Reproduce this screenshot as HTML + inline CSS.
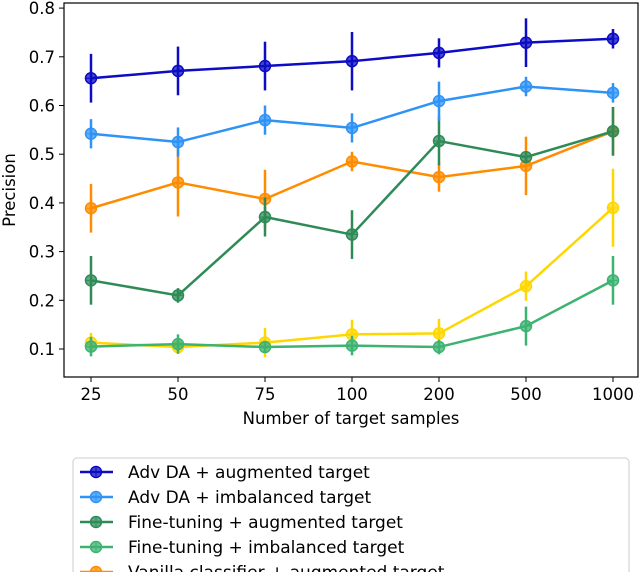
<!DOCTYPE html>
<html><head><meta charset="utf-8"><style>
html,body{margin:0;background:#fff;width:640px;height:572px;overflow:hidden;}
svg{display:block;overflow:hidden;}
svg text{font-family:"DejaVu Sans","Liberation Sans",sans-serif;fill:#000;}
</style></head><body>
<svg id="chart" width="640" height="572" xmlns="http://www.w3.org/2000/svg">
<g id="plot"></g>
</svg>
<script>
const categories=["25","50","75","100","200","500","1000"];
const yTicks=[0.1,0.2,0.3,0.4,0.5,0.6,0.7,0.8];
const seriesNames=["Adv DA + augmented target","Adv DA + imbalanced target","Fine-tuning + augmented target","Fine-tuning + imbalanced target","Vanilla classifier + augmented target","Vanilla classifier + imbalanced target"];
const seriesColors=["#0c0cc4","#2f93f5","#2e8b57","#3cb371","#ff8c00","#ffd700"];
const advAug=[0.656,0.671,0.681,0.691,0.708,0.729,0.737];
const advAugErr=[0.05,0.05,0.05,0.06,0.03,0.05,0.02];
const advImb=[0.542,0.525,0.570,0.554,0.609,0.639,0.626];
const advImbErr=[0.03,0.03,0.03,0.03,0.04,0.02,0.02];
const ftAug=[0.241,0.210,0.371,0.335,0.527,0.494,0.547];
const ftAugErr=[0.05,0.015,0.04,0.05,0.05,0.01,0.05];
const ftImb=[0.105,0.110,0.104,0.107,0.104,0.147,0.241];
const ftImbErr=[0.02,0.02,0.01,0.02,0.015,0.04,0.05];
const vanAug=[0.389,0.442,0.408,0.485,0.453,0.476,0.547];
const vanAugErr=[0.05,0.07,0.06,0.02,0.03,0.06,0.05];
const vanImb=[0.113,0.104,0.113,0.130,0.132,0.229,0.390];
const vanImbErr=[0.02,0.01,0.03,0.03,0.03,0.03,0.08];

const NS="http://www.w3.org/2000/svg";
const L=64,R=638,T=3,B=377;
function xPos(i){return 91+i*87;}
function yPos(v){return 349-(v-0.1)*487;}
const g=document.getElementById('plot');
function mk(tag,attrs,parent){const e=document.createElementNS(NS,tag);for(const k in attrs)e.setAttribute(k,attrs[k]);(parent||g).appendChild(e);return e;}

const frame=mk('rect',{x:L,y:T,width:R-L,height:B-T,fill:'none',stroke:'#000','stroke-width':1.2});


yTicks.forEach(v=>{
  const y=yPos(v);
  const t=mk('line',{x1:L-5,x2:L,y1:y,y2:y,stroke:'#000'});
  
  
  const tx=mk('text',{x:L-9,y:y+6,'text-anchor':'end','font-size':16.5});
  tx.textContent=v.toFixed(1);
  
  
});
categories.forEach((c,i)=>{
  const x=xPos(i);
  const t=mk('line',{x1:x,x2:x,y1:B,y2:B+5,stroke:'#000'});
  
  
  const tx=mk('text',{x:x,y:400,'text-anchor':'middle','font-size':16.5});
  tx.textContent=c;
  
  
});
const xl=mk('text',{x:351,y:424,'text-anchor':'middle','font-size':16.5});
xl.textContent="Number of target samples";


const yl=mk('text',{x:0,y:0,'text-anchor':'middle','font-size':16.5,transform:'translate(15,190) rotate(-90)'});
yl.textContent="Precision";



const allVals=[advAug,advImb,ftAug,ftImb,vanAug,vanImb];
const allErr=[advAugErr,advImbErr,ftAugErr,ftImbErr,vanAugErr,vanImbErr];
const order=[5,4,3,2,1,0];
function marker(x,y,col,parent){
  mk('circle',{cx:x,cy:y,r:5.5,fill:col,stroke:col,'stroke-width':1.5,'fill-opacity':0.75},parent);
  mk('path',{d:`M${x-5} ${y}H${x+5}M${x} ${y-5}V${y+5}`,stroke:col,'stroke-width':1},parent);
}
order.forEach(s=>{
  const col=seriesColors[s];
  const sg=mk('g',{});
  
  
  const vals=allVals[s],err=allErr[s];
  vals.forEach((v,i)=>{
    const eb=mk('line',{x1:xPos(i),x2:xPos(i),y1:yPos(v-err[i]),y2:yPos(v+err[i]),stroke:col,'stroke-width':2.5},sg);
    
    
  });
  const pl=mk('polyline',{points:vals.map((v,i)=>xPos(i)+','+yPos(v)).join(' '),fill:'none',stroke:col,'stroke-width':2.5},sg);
  
  
  vals.forEach((v,i)=>marker(xPos(i),yPos(v),col,sg));
});

const lg=mk('g',{});


mk('rect',{x:73,y:458,width:556,height:130,rx:4,fill:'#fff',stroke:'#ccc','stroke-width':1},lg);
seriesNames.forEach((n,s)=>{
  const y=472+s*25;
  const e=mk('g',{},lg);
  
  
  mk('line',{x1:80,x2:113,y1:y,y2:y,stroke:seriesColors[s],'stroke-width':2.5},e);
  marker(96,y,seriesColors[s],e);
  const t=mk('text',{x:128,y:y+6,'font-size':17},e);
  t.textContent=n;
});
</script>
</body></html>
